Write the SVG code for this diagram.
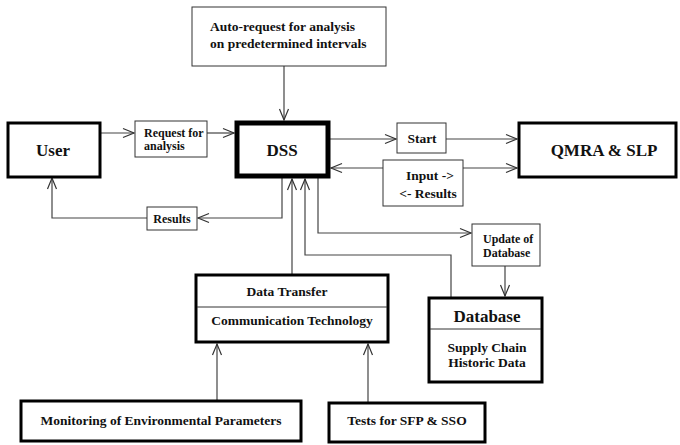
<svg xmlns="http://www.w3.org/2000/svg" width="680" height="445" viewBox="0 0 680 445">
<style>
text{font-family:"Liberation Serif","Times New Roman",serif;font-weight:bold;fill:#111}
.big{font-size:17px}
.md{font-size:13.5px}
.sm{font-size:12px}
.thin{fill:#fff;stroke:#333;stroke-width:1}
.thick{fill:#fff;stroke:#000;stroke-width:3}
.heavy{fill:#fff;stroke:#000;stroke-width:5}
.div{stroke:#333;stroke-width:1}
.c{fill:none;stroke:#444;stroke-width:1.2}
</style>
<defs>
<marker id="a" markerUnits="userSpaceOnUse" markerWidth="14" markerHeight="12" viewBox="0 0 14 12" refX="12" refY="6" orient="auto">
<path d="M1,1.5 L12,6 L1,10.5" fill="none" stroke="#333" stroke-width="1.2"/>
</marker>
</defs>
<g id="connectors">
<line class="c" x1="284" y1="66" x2="284" y2="120" marker-end="url(#a)"/>
<line class="c" x1="100" y1="133" x2="134" y2="133" marker-end="url(#a)"/>
<line class="c" x1="207" y1="133" x2="234" y2="133" marker-end="url(#a)"/>
<line class="c" x1="330" y1="139" x2="396" y2="139" marker-end="url(#a)"/>
<line class="c" x1="446" y1="139" x2="517" y2="139" marker-end="url(#a)"/>
<line class="c" x1="383" y1="168" x2="331" y2="168" marker-end="url(#a)"/>
<line class="c" x1="463" y1="168" x2="517" y2="168" marker-end="url(#a)"/>
<polyline class="c" points="282,178 282,218 198,218" marker-end="url(#a)"/>
<polyline class="c" points="147,218 52,218 52,178" marker-end="url(#a)"/>
<line class="c" x1="292" y1="274" x2="292" y2="179" marker-end="url(#a)"/>
<polyline class="c" points="451,297 451,255 305,255 305,179" marker-end="url(#a)"/>
<polyline class="c" points="318,178 318,233 471,233" marker-end="url(#a)"/>
<line class="c" x1="505" y1="266" x2="505" y2="296" marker-end="url(#a)"/>
<line class="c" x1="217" y1="400" x2="217" y2="344" marker-end="url(#a)"/>
<line class="c" x1="368" y1="402" x2="368" y2="344" marker-end="url(#a)"/>
</g>
<g id="auto">
<rect class="thin" x="192" y="7" width="194" height="59"/>
<text class="md" x="210" y="31">Auto-request for analysis</text>
<text class="md" x="210" y="48">on predetermined intervals</text>
</g>
<g id="user">
<rect class="thick" x="8" y="123" width="92" height="54"/>
<text class="big" x="53" y="156" text-anchor="middle">User</text>
</g>
<g id="request">
<rect class="thin" x="135" y="121" width="72" height="36"/>
<text class="sm" x="144" y="137">Request for</text>
<text class="sm" x="144" y="150">analysis</text>
</g>
<g id="dss">
<rect class="heavy" x="237" y="123" width="91" height="53"/>
<text class="big" x="282" y="156" text-anchor="middle">DSS</text>
</g>
<g id="start">
<rect class="thin" x="397" y="123" width="49" height="30"/>
<text class="md" x="422" y="143" text-anchor="middle">Start</text>
</g>
<g id="input">
<rect class="thin" x="383" y="160" width="80" height="46"/>
<text class="md" x="430" y="180" text-anchor="middle">Input -&gt;</text>
<text class="md" x="428" y="198" text-anchor="middle">&lt;- Results</text>
</g>
<g id="qmra">
<rect class="thick" x="519" y="123" width="157" height="54"/>
<text class="big" x="604" y="156" text-anchor="middle">QMRA &amp; SLP</text>
</g>
<g id="results">
<rect class="thin" x="147" y="207" width="50" height="23"/>
<text class="sm" x="172" y="223" text-anchor="middle">Results</text>
</g>
<g id="update">
<rect class="thin" x="472" y="224" width="68" height="42"/>
<text class="sm" x="483" y="243">Update of</text>
<text class="sm" x="483" y="257">Database</text>
</g>
<g id="database">
<rect class="thick" x="429" y="298" width="113" height="84"/>
<line class="div" x1="430" y1="329" x2="541" y2="329"/>
<text class="big" x="487" y="322" text-anchor="middle">Database</text>
<text class="md" x="487" y="352" text-anchor="middle">Supply Chain</text>
<text class="md" x="487" y="367" text-anchor="middle">Historic Data</text>
</g>
<g id="datatransfer">
<rect class="thick" x="196" y="275" width="192" height="67"/>
<line class="div" x1="197" y1="307" x2="387" y2="307"/>
<text class="md" x="287" y="296" text-anchor="middle">Data Transfer</text>
<text class="md" x="292" y="325" text-anchor="middle">Communication Technology</text>
</g>
<g id="monitoring">
<rect class="thick" x="21" y="401" width="280" height="40"/>
<text class="md" x="161" y="425" text-anchor="middle">Monitoring of Environmental Parameters</text>
</g>
<g id="tests">
<rect class="thick" x="329" y="403" width="156" height="39"/>
<text class="md" x="407" y="425" text-anchor="middle">Tests for SFP &amp; SSO</text>
</g>
</svg>
